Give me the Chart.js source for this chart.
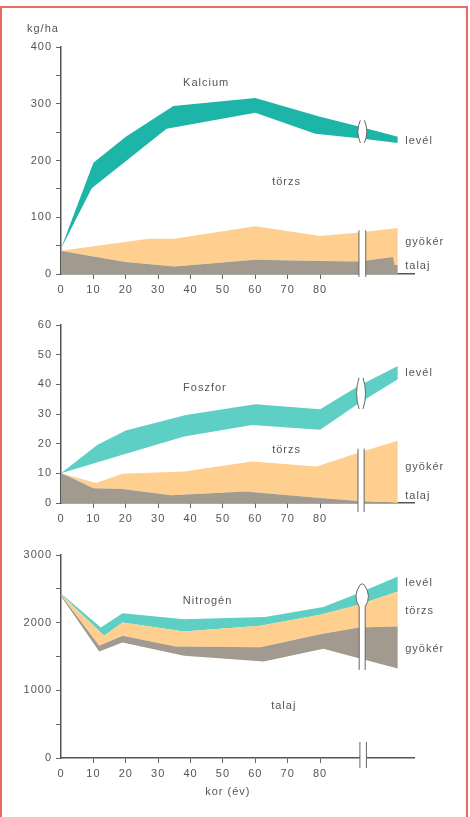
<!DOCTYPE html>
<html>
<head>
<meta charset="utf-8">
<script src="https://cdn.jsdelivr.net/npm/chart.js@4.4.1/dist/chart.umd.min.js"></script>
<style>
  html, body { margin: 0; padding: 0; background: #fff; }
  #page { position: relative; width: 470px; height: 817px; overflow: hidden; }
  #frame { position: absolute; left: 0; top: 6px; width: 464px; height: 840px; border: 2px solid #ea6b62; }
  canvas { position: absolute; left: 0; }
</style>
</head>
<body>
<div id="page">
  <div id="frame"></div>
  <canvas id="ca" width="470" height="300" style="top:0px"></canvas>
  <canvas id="p" width="470" height="230" style="top:305px"></canvas>
  <canvas id="n" width="470" height="282" style="top:535px"></canvas>
</div>
<script>
// kor (év) ticks
const xTicks = [0, 10, 20, 30, 40, 50, 60, 70, 80];
const xMax = 109;

// Kalcium, kg/ha - upper edge of each layer (cumulative)
const caTalajX = [0, 10, 20, 35, 60, 80, 92, 102.5, 103, 104];
const caTalajY = [41, 31, 21, 13, 25, 23, 22, 30, 16, 16];
const caGyokerX = [0, 27, 35, 60, 80, 92, 104];
const caGyokerY = [41, 62, 62, 84, 67, 73, 81];
const caTorzsX = [0, 9.5, 32.6, 60, 78.5, 92, 104];
const caTorzsY = [45, 151, 256, 284, 247, 239, 231];
const caLevelX = [0, 10, 20, 34.7, 60, 80, 92, 104];
const caLevelY = [45, 196, 242, 296, 310, 277, 260, 242];

// Foszfor
const pTalajX = [0, 10, 19, 34, 57, 80, 92, 104];
const pTalajY = [10.1, 5.0, 4.7, 2.6, 3.9, 1.7, 0.7, 0];
const pGyokerX = [0, 10.8, 19, 38, 59, 79, 92, 104];
const pGyokerY = [10, 6.7, 9.9, 10.6, 14, 12.3, 17, 21];
const pTorzsX = [0, 19, 38, 59, 80, 92, 104];
const pTorzsY = [10, 16.3, 22.4, 26.3, 24.7, 33.6, 41.7];
const pLevelX = [0, 11.3, 20, 38.6, 60, 80, 92, 104];
const pLevelY = [10, 19.6, 24.4, 29.7, 33.3, 31.6, 39.5, 46.2];

// Nitrogén
const nTalajX = [0, 11.8, 19, 38, 62.6, 81, 92, 104];
const nTalajY = [2390, 1574, 1707, 1510, 1426, 1613, 1475, 1322];
const nGyokerX = [0, 11.8, 19, 35.4, 61.5, 80, 92, 104];
const nGyokerY = [2410, 1658, 1806, 1648, 1638, 1830, 1929, 1944];
const nTorzsX = [0, 13.3, 19, 38, 61.5, 80, 92, 104];
const nTorzsY = [2420, 1806, 2003, 1870, 1954, 2116, 2264, 2462];
const nLevelX = [0, 12.3, 19, 38, 63, 81, 92, 104];
const nLevelY = [2430, 1929, 2141, 2052, 2082, 2230, 2437, 2684];

const TEAL_DARK = '#1db5a8';
const TEAL = '#5dcfc4';
const ORANGE = '#fecf8e';
const GRAY = '#a29a8e';
const TEXT = '#555';
const FONT = 'Liberation Sans';

function pts(xs, ys) {
    return xs.map((x, i) => ({ x: x, y: ys[i] }));
}

// labels written into the plot, in data coordinates
const labelPlugin = {
    id: 'labels',
    afterDraw(chart, args, opts) {
        const ctx = chart.ctx;
        const sx = chart.scales.x, sy = chart.scales.y;
        ctx.save();
        ctx.font = '11px "' + FONT + '"';
        ctx.letterSpacing = '1px';
        ctx.fillStyle = TEXT;
        ctx.textBaseline = 'middle';
        (opts.items || []).forEach(it => {
            ctx.textAlign = it.align || 'left';
            ctx.fillText(it.text, sx.getPixelForValue(it.x), sy.getPixelForValue(it.y));
        });
        ctx.restore();
    }
};

// axis break marks
const breakPlugin = {
    id: 'brk',
    beforeDraw(chart) {
        chart.ctx.letterSpacing = '1px';
    },
    afterDatasetsDraw(chart, args, b) {
        if (!b || !b.kind) return;
        const ctx = chart.ctx;
        const sx = chart.scales.x, sy = chart.scales.y;
        ctx.save();
        ctx.strokeStyle = '#666';
        ctx.lineWidth = 1;
        ctx.fillStyle = '#fff';
        if (b.kind === 'lens') {
            const x0 = sx.getPixelForValue(b.x0), x1 = sx.getPixelForValue(b.x1);
            const t = sy.getPixelForValue(b.top), bt = sy.getPixelForValue(b.bot);
            ctx.fillRect(x0, t, x1 - x0, bt - t);
            ctx.beginPath();
            ctx.moveTo(x0, t); ctx.lineTo(x0, bt);
            ctx.moveTo(x1, t); ctx.lineTo(x1, bt);
            ctx.stroke();
            const xc = (x0 + x1) / 2;
            const lt = sy.getPixelForValue(b.lensTop), lb = sy.getPixelForValue(b.lensBot);
            const mid = (lt + lb) / 2;
            ctx.beginPath();
            ctx.moveTo(xc - 2, lt);
            ctx.quadraticCurveTo(xc - 7, mid, xc - 2, lb);
            ctx.lineTo(xc + 2, lb);
            ctx.quadraticCurveTo(xc + 7, mid, xc + 2, lt);
            ctx.closePath();
            ctx.fill();
            ctx.beginPath();
            ctx.moveTo(xc - 2, lt);
            ctx.quadraticCurveTo(xc - 7, mid, xc - 2, lb);
            ctx.moveTo(xc + 2, lt);
            ctx.quadraticCurveTo(xc + 7, mid, xc + 2, lb);
            ctx.stroke();
        } else {
            const cx = sx.getPixelForValue(b.xc);
            const t = sy.getPixelForValue(b.top), w = sy.getPixelForValue(b.waist), bt = sy.getPixelForValue(b.bot);
            const mid = (t + w) / 2;
            ctx.beginPath();
            ctx.moveTo(cx - 3, bt);
            ctx.lineTo(cx - 3, w);
            ctx.quadraticCurveTo(cx - 10, mid, cx - 2, t);
            ctx.quadraticCurveTo(cx, t - 2, cx + 2, t);
            ctx.quadraticCurveTo(cx + 10, mid, cx + 3, w);
            ctx.lineTo(cx + 3, bt);
            ctx.fill();
            ctx.stroke();
            const a0 = sx.getPixelForValue(b.ax0), a1 = sx.getPixelForValue(b.ax1);
            const at = sy.getPixelForValue(b.axTop), ab = sy.getPixelForValue(b.axBot);
            ctx.fillRect(a0, at, a1 - a0, ab - at);
            ctx.beginPath();
            ctx.moveTo(a0, at); ctx.lineTo(a0, ab);
            ctx.moveTo(a1, at); ctx.lineTo(a1, ab);
            ctx.stroke();
        }
        ctx.restore();
    }
};

function makeChart(id, layers, yMax, yStep, yLabelEvery, padTop, xAxisH, labels, brk) {
    const datasets = layers.map((l, i) => ({
        label: l.name,
        data: pts(l.xs, l.ys),
        borderColor: 'rgba(0,0,0,0)',
        borderWidth: 1,
        backgroundColor: l.color || 'rgba(0,0,0,0)',
        fill: l.color ? (i === 0 ? 'origin' : '-1') : false,
        pointRadius: 0,
        tension: 0
    }));

    return new Chart(document.getElementById(id), {
        type: 'line',
        data: { datasets: datasets },
        plugins: [breakPlugin, labelPlugin],
        options: {
            responsive: false,
            animation: false,
            events: [],
            layout: { padding: { top: padTop, right: 470 - 61 - Math.round(xMax * 3.2375), left: 0, bottom: 0 } },
            plugins: {
                legend: { display: false },
                tooltip: { enabled: false },
                labels: { items: labels },
                brk: brk
            },
            scales: {
                x: {
                    type: 'linear',
                    min: 0,
                    max: xMax,
                    afterBuildTicks: s => { s.ticks = xTicks.map(v => ({ value: v })); },
                    afterFit: s => { s.height = xAxisH; },
                    grid: {
                        drawOnChartArea: false,
                        tickLength: 5,
                        color: c => (c.tick && c.tick.value === 0) ? 'rgba(0,0,0,0)' : '#666'
                    },
                    border: { color: TEXT, width: 1.5 },
                    ticks: {
                        color: TEXT,
                        padding: 4,
                        maxRotation: 0,
                        autoSkip: false,
                        font: { family: FONT, size: 11 }
                    }
                },
                y: {
                    min: 0,
                    max: yMax,
                    afterBuildTicks: s => {
                        const t = [];
                        for (let v = 0; v <= yMax; v += yStep) t.push({ value: v });
                        s.ticks = t;
                    },
                    afterFit: s => { s.width = 61; },
                    grid: { drawOnChartArea: false, tickLength: 5, color: '#666' },
                    border: { color: TEXT, width: 1.5 },
                    ticks: {
                        color: TEXT,
                        padding: 4,
                        autoSkip: false,
                        font: { family: FONT, size: 11 },
                        callback: v => (v % yLabelEvery === 0 ? v : '')
                    }
                }
            }
        }
    });
}

makeChart('ca', [
    { name: 'talaj', xs: caTalajX, ys: caTalajY, color: GRAY },
    { name: 'gyökér', xs: caGyokerX, ys: caGyokerY, color: ORANGE },
    { name: 'törzs', xs: caTorzsX, ys: caTorzsY, color: null },
    { name: 'levél', xs: caLevelX, ys: caLevelY, color: TEAL_DARK }
], 400, 50, 100, 47, 26, [
    { text: 'kg/ha', x: -10.5, y: 432 },
    { text: 'Kalcium', x: 37.7, y: 336 },
    { text: 'törzs', x: 65.2, y: 162 },
    { text: 'levél', x: 106.3, y: 234 },
    { text: 'gyökér', x: 106.3, y: 56 },
    { text: 'talaj', x: 106.3, y: 14 }
], { kind: 'lens', x0: 92.0, x1: 94.1, top: 77, bot: -5, lensTop: 271, lensBot: 231 });

makeChart('p', [
    { name: 'talaj', xs: pTalajX, ys: pTalajY, color: GRAY },
    { name: 'gyökér', xs: pGyokerX, ys: pGyokerY, color: ORANGE },
    { name: 'törzs', xs: pTorzsX, ys: pTorzsY, color: null },
    { name: 'levél', xs: pLevelX, ys: pLevelY, color: TEAL }
], 60, 10, 10, 20, 32, [
    { text: 'Foszfor', x: 37.7, y: 38.7 },
    { text: 'törzs', x: 65.2, y: 17.9 },
    { text: 'levél', x: 106.3, y: 43.9 },
    { text: 'gyökér', x: 106.3, y: 12.1 },
    { text: 'talaj', x: 106.3, y: 2.5 }
], { kind: 'lens', x0: 91.7, x1: 93.6, top: 18.3, bot: -3, lensTop: 42.2, lensBot: 31.7 });

makeChart('n', [
    { name: 'talaj', xs: nTalajX, ys: nTalajY, color: null },
    { name: 'gyökér', xs: nGyokerX, ys: nGyokerY, color: GRAY },
    { name: 'törzs', xs: nTorzsX, ys: nTorzsY, color: ORANGE },
    { name: 'levél', xs: nLevelX, ys: nLevelY, color: TEAL }
], 3000, 500, 1000, 20, 59, [
    { text: 'Nitrogén', x: 37.6, y: 2328 },
    { text: 'talaj', x: 64.9, y: 774 },
    { text: 'levél', x: 106.3, y: 2585 },
    { text: 'törzs', x: 106.3, y: 2180 },
    { text: 'gyökér', x: 106.3, y: 1609 },
    { text: 'kor (év)', x: 51.5, y: -508, align: 'center' }
], { kind: 'slot', xc: 93.0, top: 2560, waist: 2235, bot: 1302, ax0: 92.3, ax1: 94.3, axTop: 237, axBot: -148 });
</script>
</body>
</html>
